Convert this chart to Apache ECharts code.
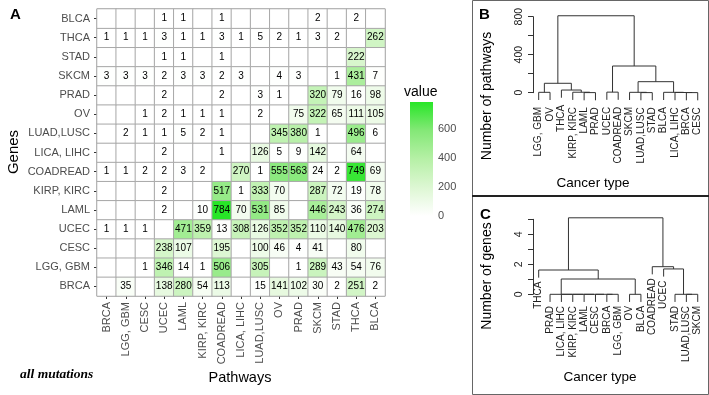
<!DOCTYPE html>
<html><head><meta charset="utf-8">
<script src="https://cdn.jsdelivr.net/npm/echarts@6/dist/echarts.min.js"></script>
<style>html,body{margin:0;padding:0;background:#fff}#c{width:709px;height:395px}</style>
</head><body><div id="c"></div>
<script>
// ---- Panel A data ----
const pathways = ['BRCA','LGG, GBM','CESC','UCEC','LAML','KIRP, KIRC','COADREAD','LICA, LIHC','LUAD,LUSC','OV','PRAD','SKCM','STAD','THCA','BLCA'];
const genes = ['BRCA','LGG, GBM','CESC','UCEC','LAML','KIRP, KIRC','COADREAD','LICA, LIHC','LUAD,LUSC','OV','PRAD','SKCM','STAD','THCA','BLCA'];
const rowBRCA     = [null,35,null,138,280,54,113,null,15,141,102,30,2,251,2];
const rowLGG      = [null,null,1,346,14,1,506,null,305,null,1,289,43,54,76];
const rowCESC     = [null,null,null,238,107,null,195,null,100,46,4,41,null,80,null];
const rowUCEC     = [1,1,1,null,471,359,13,308,126,352,352,110,140,476,203];
const rowLAML     = [null,null,null,2,null,10,784,70,531,85,null,446,243,36,274];
const rowKIRP     = [null,null,null,2,null,null,517,1,333,70,null,287,72,19,78];
const rowCOADREAD = [1,1,2,2,3,2,null,270,1,555,563,24,2,749,69];
const rowLICA     = [null,null,null,2,null,null,1,null,126,5,9,142,null,64,null];
const rowLUAD     = [null,2,1,1,5,2,1,null,null,345,380,1,null,496,6];
const rowOV       = [null,null,1,2,1,1,1,null,2,null,75,322,65,111,105];
const rowPRAD     = [null,null,null,2,null,null,2,null,3,1,null,320,79,16,98];
const rowSKCM     = [3,3,3,2,3,3,2,3,null,4,3,null,1,431,7];
const rowSTAD     = [null,null,null,1,1,null,1,null,null,null,null,null,null,222,null];
const rowTHCA     = [1,1,1,3,1,1,3,1,5,2,1,3,2,null,262];
const rowBLCA     = [null,null,null,1,1,null,1,null,null,null,null,2,null,2,null];
const legendTicks = [0,200,400,600];
const valueMax = 784;

// ---- Panel B dendrogram (pathways) ----
const leavesB = ['LGG, GBM','OV','THCA','KIRP, KIRC','LAML','PRAD','UCEC','COADREAD','SKCM','LUAD,LUSC','STAD','BLCA','LICA, LIHC','BRCA','CESC'];
// [left, right, height]; negative = leaf position, positive = earlier merge
const mergesB = [[-1,-2,4],[-5,-6,1],[-4,2,5],[-3,3,28],[1,4,99],[-7,-8,6],[-10,-11,1],[-9,7,4],[-14,-15,1],[-13,9,2],[-12,10,4],[8,11,116],[6,12,281],[5,13,810]];
const ticksB = [0,200,400,600,800];

// ---- Panel C dendrogram (genes) ----
const leavesC = ['THCA','PRAD','LICA, LIHC','KIRP, KIRC','LAML','CESC','BRCA','LGG, GBM','OV','BLCA','COADREAD','UCEC','STAD','LUAD,LUSC','SKCM'];
const mergesC = [[-7,-8,0],[-6,1,0],[-5,2,0],[-4,3,0],[-3,4,0],[-2,5,0],[-9,-10,0],[6,7,1.02],[-1,8,1.62],[-14,-15,0],[-13,10,0],[-12,11,1.69],[-11,12,1.84],[9,13,5.1]];
const ticksC = [0,1,2,3,4,5];

const matrix = [rowBRCA,rowLGG,rowCESC,rowUCEC,rowLAML,rowKIRP,rowCOADREAD,rowLICA,rowLUAD,rowOV,rowPRAD,rowSKCM,rowSTAD,rowTHCA,rowBLCA];
const heatData = [];
matrix.forEach((row, y) => row.forEach((v, x) => heatData.push([x, y, v == null ? 0 : v])));

function dendro(merges, hang) {
  const mx = [], mh = [], segs = [], ends = [];
  const cx = c => c < 0 ? -c : mx[c - 1];
  merges.forEach((m, i) => {
    const [a, b, h] = m;
    mx[i] = (cx(a) + cx(b)) / 2; mh[i] = h;
    segs.push([cx(a), h, cx(b), h]);
    [a, b].forEach(c => {
      const x = cx(c);
      if (c < 0) { segs.push([x, h, x, h - hang]); ends.push([x, h - hang, -c - 1]); }
      else segs.push([x, h, x, mh[c - 1]]);
    });
  });
  return { segs, ends };
}
const hangB = 0.1 * Math.max(...mergesB.map(m => m[2]));
const hangC = 0.1 * Math.max(...mergesC.map(m => m[2]));
const dB = dendro(mergesB, hangB), dC = dendro(mergesC, hangC);

const FONT = 'Liberation Sans, Arial, sans-serif';
const colorStops = ['#ffffff', '#ddf7d3', '#b6f0a6', '#84e877', '#27e627'];

function segSeries(data, xi, yi) {
  return { type: 'custom', xAxisIndex: xi, yAxisIndex: yi, clip: false, silent: true, data: data,
    renderItem: (p, api) => {
      const a = api.coord([api.value(0), api.value(1)]), b = api.coord([api.value(2), api.value(3)]);
      return { type: 'line', shape: { x1: a[0], y1: a[1], x2: b[0], y2: b[1] }, style: { stroke: '#333', lineWidth: 1 } };
    } };
}
function labelSeries(data, names, xi, yi, gap) {
  return { type: 'custom', xAxisIndex: xi, yAxisIndex: yi, clip: false, silent: true, data: data,
    renderItem: (p, api) => {
      const a = api.coord([api.value(0), api.value(1)]);
      return { type: 'text', x: a[0], y: a[1] + gap, rotation: Math.PI / 2,
        style: { text: names[api.value(2)], textAlign: 'right', textVerticalAlign: 'middle', verticalAlign: 'middle',
          fontSize: 10, fontFamily: FONT, fill: '#222' } };
    } };
}
function dendroY(min, max, interval, show) {
  return { type: 'value', min: min, max: max, interval: interval,
    axisLine: { show: true, onZero: false, lineStyle: { color: '#333' } },
    axisTick: { show: true, length: 5, lineStyle: { color: '#333' } },
    splitLine: { show: false },
    axisLabel: { rotate: 90, margin: 8, fontSize: 10.5, fontFamily: FONT, color: '#222',
      formatter: v => show.includes(v) ? String(v) : '' } };
}

const chart = echarts.init(document.getElementById('c'), null, { renderer: 'canvas' });
chart.setOption({
  animation: false,
  grid: [
    { left: 97, top: 9, width: 288, height: 287, show: true, borderColor: '#aaa', borderWidth: 1 },
    { left: 410, top: 102, width: 23, height: 114 },
    { left: 533, top: 16.7, width: 170.4, height: 76 },
    { left: 533, top: 219.3, width: 170.4, height: 75 }
  ],
  xAxis: [
    { type: 'category', gridIndex: 0, data: pathways,
      axisLine: { show: false }, axisTick: { show: true, alignWithLabel: true, interval: 0, length: 3, lineStyle: { color: '#333' } },
      axisLabel: { rotate: 90, interval: 0, margin: 6, fontSize: 11, fontFamily: FONT, color: '#4d4d4d' },
      splitLine: { show: false } },
    { type: 'category', gridIndex: 1, data: ['value'], show: false },
    { type: 'value', gridIndex: 2, min: 0.5, max: 15.5, show: false },
    { type: 'value', gridIndex: 3, min: 0.5, max: 15.5, show: false }
  ],
  yAxis: [
    { type: 'category', gridIndex: 0, data: genes,
      axisLine: { show: false }, axisTick: { show: true, alignWithLabel: true, interval: 0, length: 3, lineStyle: { color: '#333' } },
      axisLabel: { interval: 0, margin: 7, fontSize: 11, fontFamily: FONT, color: '#4d4d4d' },
      splitLine: { show: false } },
    { type: 'value', gridIndex: 1, position: 'right', min: 0, max: valueMax, interval: 200,
      axisLine: { show: false }, axisTick: { show: false }, splitLine: { show: false },
      axisLabel: { margin: 5, fontSize: 11, fontFamily: FONT, color: '#4d4d4d', showMaxLabel: false,
        formatter: v => legendTicks.includes(v) ? String(v) : '' } },
    Object.assign(dendroY(0, ticksB[ticksB.length - 1], 200, [0, 400, 800]), { gridIndex: 2 }),
    Object.assign(dendroY(0, ticksC[ticksC.length - 1], 1, [0, 2, 4]), { gridIndex: 3 })
  ],
  visualMap: { type: 'continuous', show: false, min: 0, max: valueMax, seriesIndex: 0, inRange: { color: colorStops } },
  series: [
    { type: 'heatmap', xAxisIndex: 0, yAxisIndex: 0, data: heatData, silent: true,
      itemStyle: { borderColor: '#a8a8a8', borderWidth: 1 },
      label: { show: true, fontSize: 10, fontFamily: FONT, color: '#000',
        formatter: p => { const v = matrix[p.value[1]][p.value[0]]; return v == null ? '' : String(v); } } },
    { type: 'bar', xAxisIndex: 1, yAxisIndex: 1, data: [valueMax], barWidth: '100%', silent: true,
      itemStyle: { color: new echarts.graphic.LinearGradient(0, 0, 0, 1, colorStops.slice().reverse().map((c, i, arr) => ({ offset: i / (arr.length - 1), color: c }))) } },
    segSeries(dB.segs, 2, 2), labelSeries(dB.ends, leavesB, 2, 2, 7),
    segSeries(dC.segs, 3, 3), labelSeries(dC.ends, leavesC, 3, 3, 4)
  ],
  graphic: [
    { type: 'rect', shape: { x: 472.5, y: 0.5, width: 236, height: 394 }, style: { fill: 'none', stroke: '#666', lineWidth: 1 } },
    { type: 'line', shape: { x1: 472, y1: 196, x2: 709, y2: 196 }, style: { stroke: '#222', lineWidth: 2 } },
    { type: 'text', x: 10, y: 7, style: { text: 'A', fontSize: 15, fontWeight: 'bold', fontFamily: FONT, fill: '#000' } },
    { type: 'text', x: 479, y: 7, style: { text: 'B', fontSize: 15, fontWeight: 'bold', fontFamily: FONT, fill: '#000' } },
    { type: 'text', x: 480, y: 207, style: { text: 'C', fontSize: 15, fontWeight: 'bold', fontFamily: FONT, fill: '#000' } },
    { type: 'text', x: 14, y: 152, rotation: Math.PI / 2, style: { text: 'Genes', fontSize: 15, fontFamily: FONT, fill: '#000', textAlign: 'center', textVerticalAlign: 'middle' } },
    { type: 'text', x: 240, y: 378, style: { text: 'Pathways', fontSize: 14.5, fontFamily: FONT, fill: '#000', textAlign: 'center', textVerticalAlign: 'middle' } },
    { type: 'text', x: 20, y: 375, style: { text: 'all mutations', fontSize: 13.5, fontWeight: 'bold', fontStyle: 'italic', fontFamily: 'Liberation Serif, Times New Roman, serif', fill: '#000', textVerticalAlign: 'middle' } },
    { type: 'text', x: 404, y: 92, style: { text: 'value', fontSize: 14, fontFamily: FONT, fill: '#000', textVerticalAlign: 'middle' } },
    { type: 'text', x: 487, y: 96, rotation: Math.PI / 2, style: { text: 'Number of pathways', fontSize: 14, fontFamily: FONT, fill: '#000', textAlign: 'center', textVerticalAlign: 'middle' } },
    { type: 'text', x: 593, y: 183, style: { text: 'Cancer type', fontSize: 13.5, fontFamily: FONT, fill: '#000', textAlign: 'center', textVerticalAlign: 'middle' } },
    { type: 'text', x: 487, y: 276, rotation: Math.PI / 2, style: { text: 'Number of genes', fontSize: 14, fontFamily: FONT, fill: '#000', textAlign: 'center', textVerticalAlign: 'middle' } },
    { type: 'text', x: 600, y: 377, style: { text: 'Cancer type', fontSize: 13.5, fontFamily: FONT, fill: '#000', textAlign: 'center', textVerticalAlign: 'middle' } }
  ]
});
</script></body></html>
